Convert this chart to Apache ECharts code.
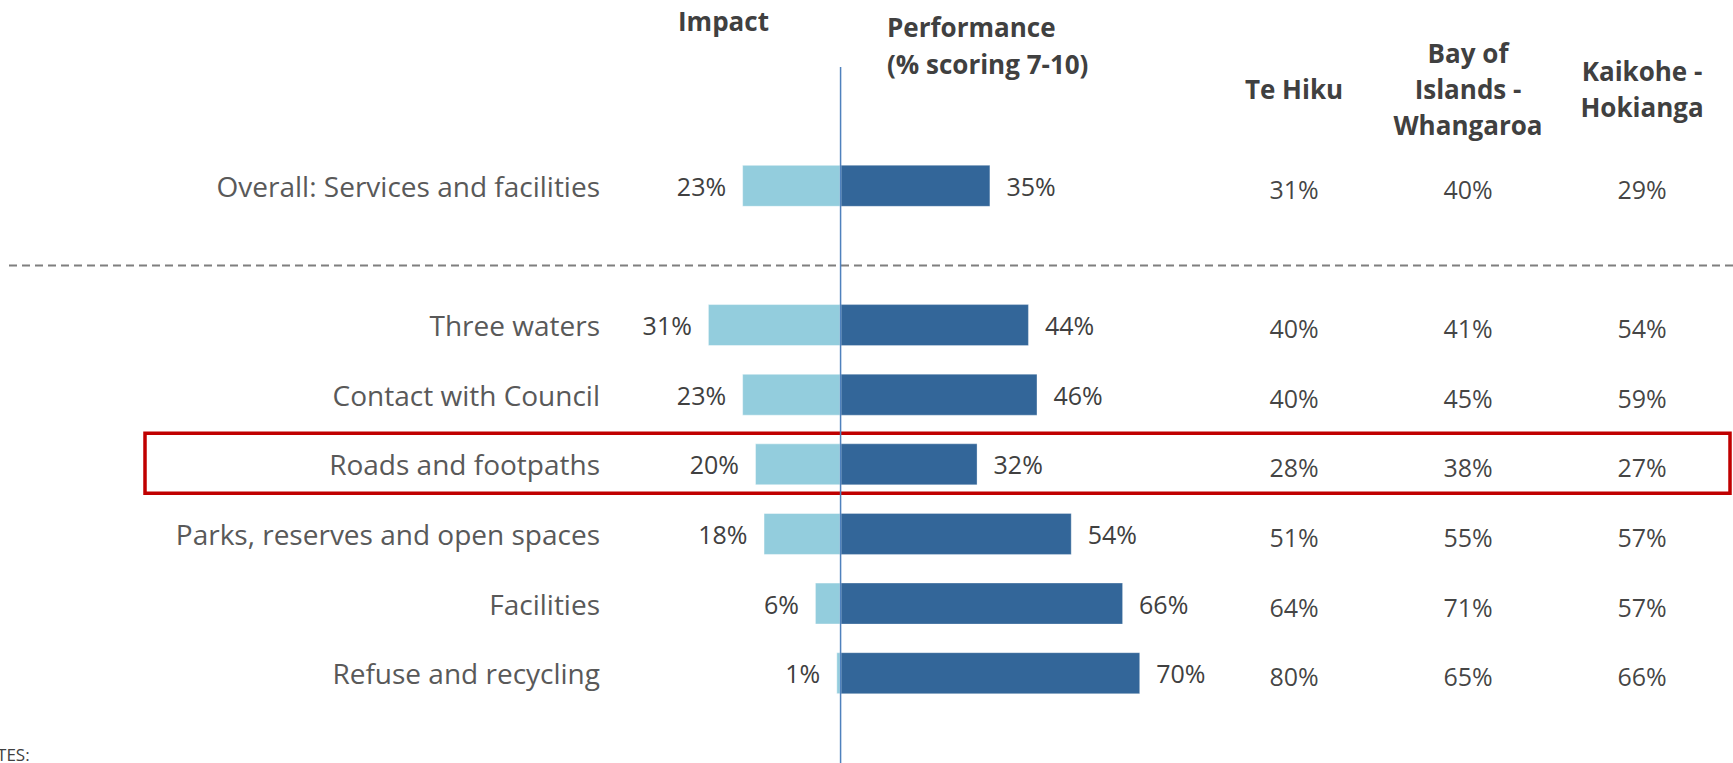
<!DOCTYPE html>
<html>
<head>
<meta charset="utf-8">
<title>Impact and performance</title>
<script src="https://cdn.jsdelivr.net/npm/echarts@6/dist/echarts.min.js"></script>
<style>
  html, body { margin: 0; padding: 0; background: #fff; }
  #main { width: 1733px; height: 763px; }
</style>
</head>
<body>
<div id="main"></div>
<script>
// rows (the empty one is the gap under the overall row)
var categories = ['Overall: Services and facilities', '', 'Three waters', 'Contact with Council',
  'Roads and footpaths', 'Parks, reserves and open spaces', 'Facilities', 'Refuse and recycling'];
var impact = [23, null, 31, 23, 20, 18, 6, 1];
var performance = [35, null, 44, 46, 32, 54, 66, 70];

// ward columns
var regions = ['Te Hiku', 'Bay of\nIslands -\nWhangaroa', 'Kaikohe -\nHokianga'];
var teHiku = [31, null, 40, 40, 28, 51, 64, 80];
var bayOfIslands = [40, null, 41, 45, 38, 55, 71, 65];
var kaikohe = [29, null, 54, 59, 27, 57, 57, 66];

var FONT = 'Open Sans';
var highlightRow = 'Roads and footpaths';

// build [col, row, value] cells for the table part
var cells = [];
[teHiku, bayOfIslands, kaikohe].forEach(function (col, ci) {
  col.forEach(function (v, ri) {
    if (v != null) cells.push([ci, ri, v]);
  });
});

var chart = echarts.init(document.getElementById('main'), null, { renderer: 'svg' });

var option = {
  animation: false,
  grid: [
    { left: 618, width: 565, top: 151, height: 557 },
    { left: 1207, width: 522, top: 151, height: 557 }
  ],
  xAxis: [
    { type: 'value', gridIndex: 0, min: -52, max: 80, show: false },
    {
      type: 'category', gridIndex: 1, position: 'top', data: regions,
      axisLine: { show: false }, axisTick: { show: false }, splitLine: { show: false },
      axisLabel: {
        interval: 0, margin: 62, verticalAlign: 'middle', lineHeight: 36,
        fontFamily: FONT, fontSize: 26, fontWeight: 'bold', color: '#404040'
      }
    }
  ],
  yAxis: [
    {
      type: 'category', gridIndex: 0, inverse: true, data: categories,
      axisLine: { show: false }, axisTick: { show: false }, splitLine: { show: false },
      axisLabel: { margin: 18, fontFamily: FONT, fontSize: 28, color: '#595959' }
    },
    { type: 'category', gridIndex: 1, inverse: true, data: categories, show: false }
  ],
  series: [
    {
      name: 'Impact', type: 'bar', stack: 'total', barWidth: 42,
      xAxisIndex: 0, yAxisIndex: 0,
      data: impact.map(function (v) { return v == null ? '-' : -v; }),
      itemStyle: { color: '#93CDDD', borderColor: 'rgba(255,255,255,0.45)', borderWidth: 1 },
      label: {
        show: true, position: 'left', distance: 16,
        fontFamily: FONT, fontSize: 25, color: '#404040',
        formatter: function (p) { return Math.abs(p.value) + '%'; }
      }
    },
    {
      name: 'Performance', type: 'bar', stack: 'total', barWidth: 42,
      xAxisIndex: 0, yAxisIndex: 0,
      data: performance.map(function (v) { return v == null ? '-' : v; }),
      itemStyle: { color: '#336699', borderColor: 'rgba(255,255,255,0.3)', borderWidth: 1 },
      label: {
        show: true, position: 'right', distance: 16,
        fontFamily: FONT, fontSize: 25, color: '#404040',
        formatter: function (p) { return p.value + '%'; }
      }
    },
    {
      name: 'Wards', type: 'scatter', xAxisIndex: 1, yAxisIndex: 1,
      data: cells, symbolSize: 1, itemStyle: { color: 'rgba(0,0,0,0)' },
      label: {
        show: true, position: 'inside', offset: [0, 3],
        fontFamily: FONT, fontSize: 25, color: '#111',
        formatter: function (p) { return p.value[2] + '%'; }
      }
    }
  ]
};
chart.setOption(option);

// decorations placed from the axes
var zeroX = chart.convertToPixel({ xAxisIndex: 0 }, 0);
var rowY = chart.convertToPixel({ yAxisIndex: 0 }, highlightRow);
var gapY = chart.convertToPixel({ yAxisIndex: 0 }, '');

chart.setOption({
  graphic: [
    {
      type: 'line', z: 10, silent: true,
      shape: { x1: zeroX, y1: 67, x2: zeroX, y2: 763 },
      style: { stroke: '#4F81BD', lineWidth: 1.5 }
    },
    {
      type: 'line', silent: true,
      shape: { x1: 9, y1: gapY + 10, x2: 1733, y2: gapY + 10 },
      style: { stroke: '#7F7F7F', lineWidth: 2, lineDash: [8, 5] }
    },
    {
      type: 'rect', silent: true,
      shape: { x: 145, y: rowY - 31, width: 1585, height: 60 },
      style: { fill: 'none', stroke: '#C00000', lineWidth: 3.5 }
    },
    {
      type: 'text', left: 678, top: 8,
      style: { text: 'Impact', fontFamily: FONT, fontSize: 26, fontWeight: 'bold', fill: '#404040' }
    },
    {
      type: 'text', left: 887, top: 8,
      style: {
        text: 'Performance\n(% scoring 7-10)', lineHeight: 37,
        fontFamily: FONT, fontSize: 26, fontWeight: 'bold', fill: '#404040'
      }
    },
    {
      type: 'text', left: -29, top: 746,
      style: { text: 'NOTES:', fontFamily: FONT, fontSize: 17, fill: '#404040' }
    }
  ]
});
</script>
</body>
</html>
